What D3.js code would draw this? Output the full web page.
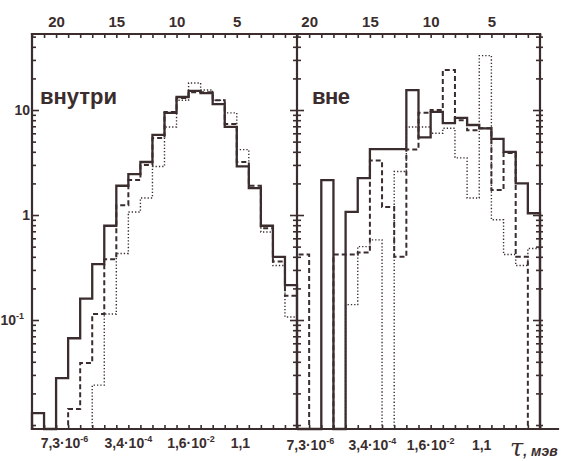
<!DOCTYPE html>
<html>
<head>
<meta charset="utf-8">
<title>внутри / вне</title>
<style>
  body { margin: 0; background: #fff; }
  text { font-family: "Liberation Sans", Arial, sans-serif; fill: #3b2d2d; }
</style>
</head>
<body>
<script src="https://d3js.org/d3.v7.min.js"></script>
<script>
var w = 576, h = 461;
var ink = '#3b2d2d';

// bins: upper edge of each bin on the top scale
var binsIn  = [22, 21, 20, 19, 18, 17, 16, 15, 14, 13, 12, 11, 10, 9, 8, 7, 6, 5, 4, 3, 2, 1];
var binsOut = [21, 20, 19, 18, 17, 16, 15, 14, 13, 12, 11, 10, 9, 8, 7, 6, 5, 4, 3, 2];

// "внутри" panel
var inSolid  = [0.013, 0, 0.028, 0.067, 0.16, 0.34, 0.79, 1.9, 2.45, 3.2, 5.8, 9.4, 13.3, 15.2, 14.5, 11.4, 6.9, 2.9, 1.8, 0.79, 0.40, 0.215];
var inDashed = [0, 0, 0, 0.0142, 0.039, 0.114, 0.38, 1.24, 2.15, 3.0, 5.4, 9.6, 13.0, 14.8, 14.8, 12.4, 7.35, 3.2, 1.9, 0.75, 0.36, 0.17];
var inDotted = [0, 0, 0, 0, 0, 0.024, 0.114, 0.43, 1.07, 1.45, 2.9, 6.9, 12.4, 18.1, 15.5, 12.4, 9.4, 4.2, 1.8, 0.69, 0.33, 0.107];

// "вне" panel
var outSolid  = [0, 0, 2.15, 0, 1.07, 2.25, 4.25, 4.25, 4.25, 15.5, 5.5, 9.6, 7.5, 8.4, 7.2, 6.7, 5.3, 4.0, 2.0, 1.04];
var outDashed = [0.42, 0, 0, 0.42, 0.42, 0.44, 3.3, 1.19, 0.40, 4.2, 9.4, 10, 24, 8.0, 6.4, 6.7, 1.73, 3.9, 0.40, 0];
var outDotted = [0, 0, 0, 0, 0.14, 0.5, 0.58, 0, 2.6, 6.9, 6.9, 6.0, 6.7, 3.5, 1.45, 33, 0.9, 0.42, 0.33, 0.48];

// tick labels
var topTicks = [20, 15, 10, 5];
var bottomBase = ['7,3·10', '3,4·10', '1,6·10', '1,1'];
var bottomExp  = ['-6', '-4', '-2', ''];
var bottomAtIn  = [19.3, 14, 8.8, 4.7];
var bottomAtOut = [19.9, 14.8, 10, 5.8];
var yMajor = [10, 1, 0.1];
var yMajorBase = ['10', '1', '10'];
var yMajorExp  = ['', '', '-1'];

var frameTop = 34, frameBot = 429, frameL = 32, frameMid = 297, frameR = 540;

var svg = d3.select('body')
            .append('svg')
            .attr('width', w)
            .attr('height', h);

var xIn  = d3.scaleLinear().domain([22, 0]).range([frameL, frameMid]);
var xOut = d3.scaleLinear().domain([21, 1]).range([frameMid, frameR]);
var y = d3.scaleLog()
          .domain([Math.pow(10, -2.038), Math.pow(10, 1.724)])
          .range([frameBot, frameTop]);

function stepLine(vals, bins, x) {
  var pts = [[x(bins[0]), frameBot]];
  vals.forEach(function(v, i) {
    var yy = v > 0 ? y(v) : frameBot;
    pts.push([x(bins[i]), yy], [x(bins[i] - 1), yy]);
  });
  pts.push([x(bins[bins.length - 1] - 1), frameBot]);
  return d3.line()(pts);
}

var styles = {
  dotted: { w: 1.4, dash: '1.3,2' },
  dashed: { w: 2, dash: '5,3' },
  solid:  { w: 2.3, dash: null }
};

function drawSeries(vals, bins, x, kind) {
  svg.append('path')
     .attr('d', stepLine(vals, bins, x))
     .attr('fill', 'none')
     .attr('stroke', ink)
     .attr('stroke-width', styles[kind].w)
     .attr('stroke-dasharray', styles[kind].dash)
     .attr('stroke-linejoin', 'miter');
}

drawSeries(inDotted, binsIn, xIn, 'dotted');
drawSeries(inDashed, binsIn, xIn, 'dashed');
drawSeries(inSolid, binsIn, xIn, 'solid');
drawSeries(outDotted, binsOut, xOut, 'dotted');
drawSeries(outDashed, binsOut, xOut, 'dashed');
drawSeries(outSolid, binsOut, xOut, 'solid');

// frame
function frameLine(x1, y1, x2, y2) {
  svg.append('line')
     .attr('x1', x1).attr('y1', y1).attr('x2', x2).attr('y2', y2)
     .attr('stroke', ink).attr('stroke-width', 2.2)
     .attr('stroke-linecap', 'square');
}
frameLine(frameL, frameTop, frameR, frameTop);
frameLine(frameL, frameBot, 558, frameBot);
frameLine(frameL, frameTop, frameL, frameBot);
frameLine(frameMid, frameTop, frameMid, frameBot);
frameLine(frameR, frameTop, frameR, frameBot);

function styleAxis(g) {
  g.select('.domain').remove();
  g.selectAll('line').attr('stroke', ink).attr('stroke-width', 1.6);
  g.selectAll('text').attr('fill', ink)
   .style('font-family', '"Liberation Sans", Arial, sans-serif');
}

// top axes
[[xIn, d3.range(0, 23)], [xOut, d3.range(1, 22)]].forEach(function(p) {
  svg.append('g')
     .attr('transform', 'translate(0,' + frameTop + ')')
     .call(d3.axisTop(p[0]).tickValues(p[1]).tickSize(-4).tickPadding(7)
             .tickFormat(function(d) { return topTicks.indexOf(d) >= 0 ? d : ''; }))
     .call(styleAxis)
     .selectAll('text')
     .style('font-size', '15px').style('font-weight', 'bold');
});

// bottom axes
[[xIn, d3.range(0, 23), bottomAtIn, 448], [xOut, d3.range(1, 22), bottomAtOut, 450]].forEach(function(p) {
  svg.append('g')
     .attr('transform', 'translate(0,' + frameBot + ')')
     .call(d3.axisBottom(p[0]).tickValues(p[1]).tickSize(-4).tickFormat(''))
     .call(styleAxis);
  bottomBase.forEach(function(b, i) {
    var t = svg.append('text')
               .attr('x', p[0](p[2][i]))
               .attr('y', p[3])
               .attr('text-anchor', 'middle')
               .style('font-size', '14px')
               .style('font-weight', 'bold');
    t.append('tspan').text(b);
    if (bottomExp[i]) {
      t.append('tspan').attr('dy', -6).style('font-size', '9px').text(bottomExp[i]);
    }
  });
});

// y ticks
var yMinor = y.ticks().filter(function(v) { return yMajor.indexOf(v) < 0; });
function yTicks(x0, side, len, vals) {
  var ax = side === 'left' ? d3.axisLeft(y) : d3.axisRight(y);
  svg.append('g')
     .attr('transform', 'translate(' + x0 + ',0)')
     .call(ax.tickValues(vals).tickSize(len).tickFormat(''))
     .call(styleAxis);
}
// left axis: inward ticks
yTicks(frameL, 'left', -4, yMinor);
yTicks(frameL, 'left', -7, yMajor);
// middle divider: ticks both sides
yTicks(frameMid, 'left', 4, yMinor);
yTicks(frameMid, 'right', 4, yMinor);
yTicks(frameMid, 'left', 7, yMajor);
yTicks(frameMid, 'right', 7, yMajor);
// right frame
yTicks(frameR, 'left', 4, yMinor);
yTicks(frameR, 'left', 7, yMajor);
yTicks(frameR, 'right', 3, yMinor.concat(yMajor));

// y labels
yMajor.forEach(function(v, i) {
  var t = svg.append('text')
             .attr('x', 30)
             .attr('y', y(v) + 5)
             .attr('text-anchor', 'end')
             .style('font-size', '14px')
             .style('font-weight', 'bold');
  t.append('tspan').text(yMajorBase[i]);
  if (yMajorExp[i]) {
    t.attr('x', 24);
    t.append('tspan').attr('dy', -6).style('font-size', '9px').text(yMajorExp[i]);
  }
});

// panel titles
svg.append('text').attr('x', 40).attr('y', 104)
   .style('font-size', '22px').style('font-weight', '600')
   .attr('textLength', 77).text('внутри');
svg.append('text').attr('x', 312).attr('y', 104)
   .style('font-size', '22px').style('font-weight', '600')
   .attr('textLength', 38).text('вне');

// x-axis name
var tau = svg.append('text').attr('x', 510).attr('y', 456);
tau.append('tspan').style('font-size', '24px').style('font-style', 'italic')
   .style('font-family', '"DejaVu Serif", serif').text('τ');
tau.append('tspan').style('font-size', '14px').style('font-weight', 'bold')
   .style('font-style', 'italic').text(', мэв');
</script>
</body>
</html>
